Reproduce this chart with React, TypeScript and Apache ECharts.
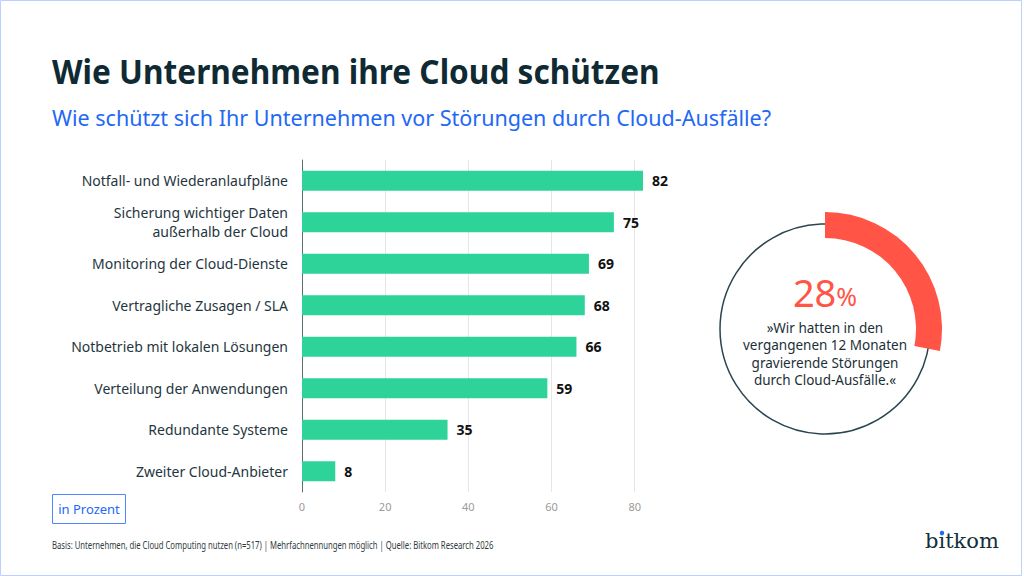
import React, { useEffect, useRef } from "react";
import * as echarts from "echarts";

// Survey answers, in percent of companies
const categories = [
  "Notfall- und Wiederanlaufpläne",
  "Sicherung wichtiger Daten\naußerhalb der Cloud",
  "Monitoring der Cloud-Dienste",
  "Vertragliche Zusagen / SLA",
  "Notbetrieb mit lokalen Lösungen",
  "Verteilung der Anwendungen",
  "Redundante Systeme",
  "Zweiter Cloud-Anbieter",
];
const values = [82, 75, 69, 68, 66, 59, 35, 8];
const axisTicks = [0, 20, 40, 60, 80];

// Share of companies with serious disruptions
const disruptionShare = 28;
const quoteLines = [
  "»Wir hatten in den",
  "vergangenen 12 Monaten",
  "gravierende Störungen",
  "durch Cloud-Ausfälle.«",
];

const titleText = "Wie Unternehmen ihre Cloud schützen";
const subtitleText = "Wie schützt sich Ihr Unternehmen vor Störungen durch Cloud-Ausfälle?";
const unitText = "in Prozent";
const footerText =
  "Basis: Unternehmen, die Cloud Computing nutzen (n=517) | Mehrfachnennungen möglich | Quelle: Bitkom Research 2026";
const logoText = "bitkom";

const FONT = "'Noto Sans', 'Open Sans', sans-serif";
const DARK = "#0f2a33";
const BLUE = "#2268f5";
const GREEN = "#2ed39a";
const RED = "#ff5446";

const ringCx = 825;
const ringCy = 329;

export default function App() {
  const ref = useRef<HTMLDivElement>(null);

  useEffect(() => {
    if (!ref.current) return;
    const chart = echarts.init(ref.current, null, { renderer: "svg" });
    const maxVal = Math.max(...values);

    chart.setOption({
      animation: false,
      backgroundColor: "#ffffff",
      grid: { left: 302, top: 160, width: 341, height: 332, containLabel: false },
      xAxis: {
        type: "value",
        min: 0,
        max: maxVal,
        interval: 20,
        axisLine: { show: false },
        axisTick: { show: false },
        splitLine: { show: true, showMaxLine: false, lineStyle: { color: "#e6e6e6", width: 1 } },
        axisLabel: {
          showMaxLabel: false,
          color: "#9a9a9a",
          fontSize: 11,
          fontFamily: FONT,
          margin: 9,
          formatter: (v: number) => (axisTicks.includes(v) ? String(v) : ""),
        },
      },
      yAxis: {
        type: "category",
        inverse: true,
        data: categories,
        axisLine: { show: true, lineStyle: { color: "#5f6e74", width: 1 } },
        axisTick: { show: false },
        axisLabel: {
          color: "#1f3640",
          fontSize: 14,
          fontFamily: FONT,
          margin: 14,
          lineHeight: 19,
          align: "right",
        },
      },
      series: [
        {
          type: "bar",
          data: values,
          barWidth: 20,
          itemStyle: { color: GREEN },
          label: {
            show: true,
            position: "right",
            distance: 9,
            color: "#111111",
            fontWeight: "bold",
            fontSize: 14,
            fontFamily: FONT,
          },
          silent: true,
        },
        {
          type: "pie",
          z: 5,
          center: [ringCx, ringCy],
          radius: [91, 117],
          startAngle: 90,
          clockwise: true,
          silent: true,
          label: { show: false },
          labelLine: { show: false },
          emphasis: { disabled: true },
          data: [
            { value: disruptionShare, itemStyle: { color: RED } },
            { value: 100 - disruptionShare, itemStyle: { color: "rgba(0,0,0,0)" } },
          ],
        },
      ],
      graphic: [
        {
          type: "rect",
          z: 0,
          shape: { x: 0.5, y: 0.5, width: 1021, height: 575 },
          style: { fill: "none", stroke: "#b9d1ff", lineWidth: 1 },
        },
        {
          type: "text",
          x: 52,
          y: 71,
          scaleX: 0.93,
          style: {
            text: titleText,
            fontSize: 34,
            fontWeight: "bold",
            fontFamily: FONT,
            fill: DARK,
            verticalAlign: "middle",
          },
        },
        {
          type: "text",
          x: 52,
          y: 117,
          style: {
            text: subtitleText,
            fontSize: 21.5,
            fontFamily: FONT,
            fill: BLUE,
            verticalAlign: "middle",
          },
        },
        {
          type: "circle",
          z: 1,
          shape: { cx: ringCx, cy: ringCy, r: 105 },
          style: { fill: "none", stroke: "#2b4550", lineWidth: 1.5 },
        },
        {
          type: "text",
          x: ringCx,
          y: 292,
          style: {
            text: `{n|${disruptionShare}}{p|%}`,
            align: "center",
            verticalAlign: "middle",
            rich: {
              n: { fontSize: 38, fontFamily: FONT, fill: RED, color: RED, verticalAlign: "bottom" },
              p: { fontSize: 25, fontFamily: FONT, fill: RED, color: RED, verticalAlign: "bottom", padding: [0, 0, 3, 0] },
            },
          },
        },
        {
          type: "text",
          x: ringCx,
          y: 354,
          style: {
            text: quoteLines.join("\n"),
            align: "center",
            verticalAlign: "middle",
            fontSize: 13.5,
            lineHeight: 17.5,
            fontFamily: FONT,
            fill: "#1c2f37",
          },
        },
        {
          type: "rect",
          shape: { x: 52.5, y: 494.5, width: 73, height: 29 },
          style: { fill: "none", stroke: "#4f86ff", lineWidth: 1 },
        },
        {
          type: "text",
          x: 89,
          y: 509,
          style: {
            text: unitText,
            align: "center",
            verticalAlign: "middle",
            fontSize: 13,
            fontFamily: FONT,
            fill: BLUE,
          },
        },
        {
          type: "text",
          x: 52,
          y: 545,
          scaleX: 0.77,
          style: {
            text: footerText,
            verticalAlign: "middle",
            fontSize: 10,
            fontFamily: FONT,
            fill: "#2f3b40",
          },
        },
        {
          type: "text",
          x: 925,
          y: 541,
          style: {
            text: logoText,
            verticalAlign: "middle",
            fontSize: 21,
            fontFamily: "'DejaVu Serif', serif",
            fill: "#12303a",
          },
        },
        {
          // blue dot of the logo's i
          type: "circle",
          z: 10,
          shape: { cx: 942, cy: 533, r: 2.2 },
          style: { fill: BLUE },
        },
      ],
    });

    return () => chart.dispose();
  }, []);

  return (
    <div
      ref={ref}
      style={{ position: "absolute", left: 0, top: 0, width: 1024, height: 576 }}
    />
  );
}
